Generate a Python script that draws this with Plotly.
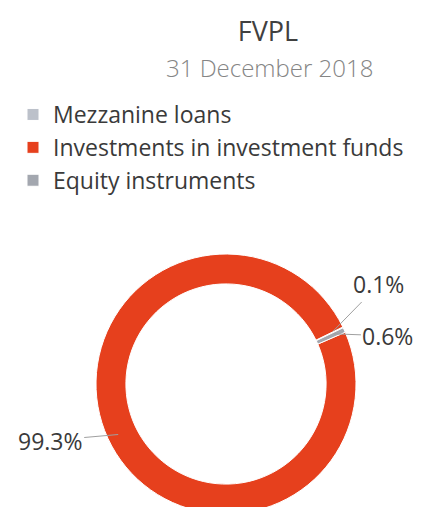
import math
import plotly.graph_objects as go

# ---- data ----
labels = ["Mezzanine loans", "Investments in investment funds", "Equity instruments"]
values = [0.1, 99.3, 0.6]
colors = ["#bcc1ca", "#e6401d", "#a3a7af"]
title_text = "FVPL"
subtitle_text = "31 December 2018"

W, H = 423, 507
# pie geometry (pixels)
CX, CY, R_OUT = 218, 376, 130
HOLE = 0.77
ROTATION = 64  # start angle, degrees clockwise from 12 o'clock

font_family = "'Open Sans', Lato, sans-serif"

fig = go.Figure()
fig.add_trace(go.Pie(
    labels=labels,
    values=values,
    sort=False,
    direction="counterclockwise",
    rotation=ROTATION,
    hole=HOLE,
    marker=dict(colors=colors, line=dict(color="white", width=1)),
    textinfo="none",
    hoverinfo="label+percent",
    domain=dict(x=[(CX - R_OUT) / W, (CX + R_OUT) / W],
                y=[1 - (CY + R_OUT) / H, 1 - (CY - R_OUT) / H]),
))

# label positions: compute each slice's mid angle from the data
total = sum(values)
label_offsets = [(46, -47), (-68, 6), (54, 2)]  # text offset (px) from leader anchor
angle = ROTATION
annotations = []
r_mid = R_OUT * (1 + HOLE) / 2 + 4
for lab, v, off in zip(labels, values, label_offsets):
    span = v / total * 360
    mid = angle - span / 2
    angle -= span
    px = CX + r_mid * math.sin(math.radians(mid))
    py = CY - r_mid * math.cos(math.radians(mid))
    annotations.append(dict(
        x=px / W, y=1 - py / H, xref="paper", yref="paper",
        text=f"{v:.1f}%", showarrow=True, arrowhead=0, arrowwidth=1,
        arrowcolor="#a0a0a0", ax=off[0], ay=off[1], standoff=0,
        font=dict(family=font_family, size=23, color="#3a3a3a"),
    ))

annotations.append(dict(
    x=261 / W, y=1 - 59 / H, xref="paper", yref="paper",
    text=subtitle_text, showarrow=False, xanchor="center", yanchor="middle",
    font=dict(family=font_family, size=24, color="#858585", weight=300),
))

fig.update_layout(
    width=W, height=H,
    margin=dict(l=0, r=0, t=0, b=0),
    paper_bgcolor="white",
    plot_bgcolor="white",
    title=dict(text=title_text, x=260 / W, xanchor="center",
               y=1 - 24 / H, yanchor="middle",
               font=dict(family=font_family, size=27, color="#404040")),
    legend=dict(x=5 / W, y=1 - 85 / H, xanchor="left", yanchor="top",
                font=dict(family=font_family, size=23, color="#3a3a3a"),
                bgcolor="rgba(0,0,0,0)"),
    annotations=annotations,
    showlegend=True,
)

fig.write_html("out.html")
